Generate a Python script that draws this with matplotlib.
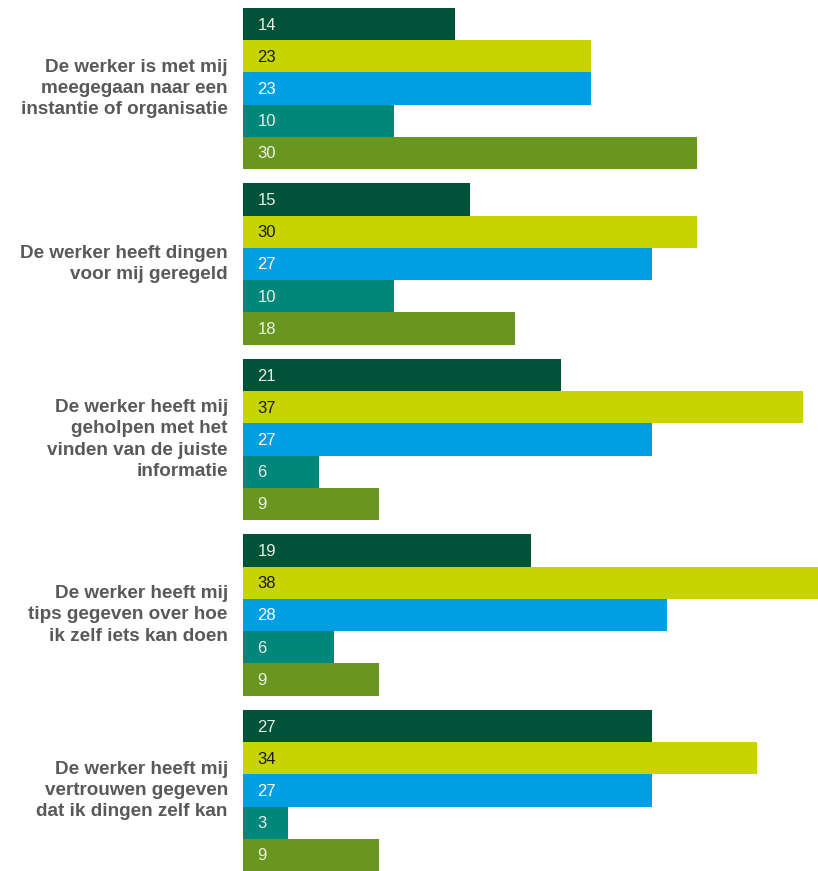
import matplotlib.pyplot as plt

categories = [
    "De werker is met mij\nmeegegaan naar een\ninstantie of organisatie",
    "De werker heeft dingen\nvoor mij geregeld",
    "De werker heeft mij\ngeholpen met het\nvinden van de juiste\ninformatie",
    "De werker heeft mij\ntips gegeven over hoe\nik zelf iets kan doen",
    "De werker heeft mij\nvertrouwen gegeven\ndat ik dingen zelf kan",
]

# five series per category, top to bottom (bar lengths as drawn)
serie1 = [14, 15, 21, 19, 27]
serie2 = [23, 30, 37, 38, 34]
serie3 = [23, 27, 27, 28, 27]
serie4 = [10, 10, 5, 6, 3]
serie5 = [30, 18, 9, 9, 9]

# printed labels (one differs from its bar length in the source)
labels4 = ["10", "10", "6", "6", "3"]

series = [serie1, serie2, serie3, serie4, serie5]
label_sets = [[str(v) for v in serie1], [str(v) for v in serie2],
              [str(v) for v in serie3], labels4, [str(v) for v in serie5]]
colors = ["#005238", "#c8d400", "#009fe3", "#00877a", "#68961e"]
text_colors = ["#e8efe9", "#1a1a1a", "#ffffff", "#e8efe9", "#eef3e4"]

gap = 0.45
group_step = 5 + gap

fig = plt.figure(figsize=(8.18, 8.71), dpi=100)
ax = fig.add_axes([243 / 818, 0, 575 / 818, 863 / 871])

for i, cat in enumerate(categories):
    start = i * group_step
    for j, s in enumerate(series):
        y = start + j + 0.5
        ax.barh(y, s[i], height=1.0, color=colors[j], edgecolor="none")
        ax.text(0.95, y + 0.03, label_sets[j][i], va="center", ha="left",
                fontsize=12, color=text_colors[j], family="Liberation Sans")
    ax.text(-1.0, start + 2.5, cat, ha="right", va="center", fontsize=13.6,
            fontweight="bold", color="#58595b", family="Liberation Sans",
            linespacing=1.33)

ax.set_xlim(0, 38)
ax.set_ylim(5 * 5 + 4 * gap, 0)
ax.axis("off")

fig.savefig("out.png", dpi=100)
